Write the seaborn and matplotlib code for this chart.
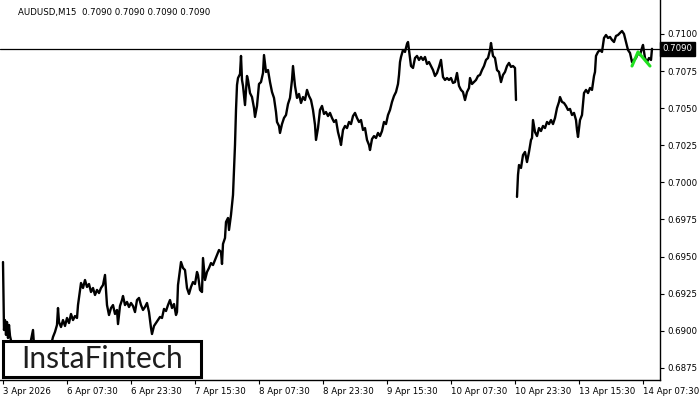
import pandas as pd
import seaborn as sns
import matplotlib.pyplot as plt
import matplotlib.transforms as mtransforms
from matplotlib.patches import Rectangle

# AUDUSD M15 closes, one point every ~2 bars
# first week (3 Apr .. 10 Apr close)
bars_week1 = [0, 1, 2, 3, 4, 5, 6, 7, 9, 12, 15, 18, 21, 24, 27, 30, 31, 34, 37, 41,
              45, 48, 50, 52, 54, 55, 56, 58, 60, 62, 64, 66, 68, 70, 72, 74, 75, 77, 78, 80,
              82, 84, 86, 88, 90, 92, 94, 96, 98, 100, 102, 103, 104, 106, 108, 110, 112, 114, 115, 117,
              119, 120, 122, 124, 126, 128, 130, 132, 134, 136, 138, 140, 142, 144, 146, 148, 149, 151, 153, 155,
              157, 159, 161, 163, 165, 167, 169, 171, 173, 174, 175, 177, 178, 180, 182, 184, 186, 188, 190, 192,
              194, 195, 197, 199, 200, 202, 204, 206, 208, 210, 212, 214, 216, 218, 219, 220, 222, 223, 225, 226,
              228, 230, 231, 232, 233, 234, 235, 237, 238, 239, 240, 241, 242, 244, 245, 247, 249, 251, 252, 254,
              256, 258, 260, 261, 263, 265, 267, 269, 271, 273, 274, 276, 277, 279, 281, 283, 285, 287, 289, 290,
              292, 294, 296, 298, 300, 302, 304, 306, 308, 310, 312, 313, 315, 317, 319, 321, 323, 325, 327, 329,
              331, 333, 335, 337, 338, 340, 342, 344, 346, 348, 350, 352, 354, 356, 358, 360, 362, 364, 366, 367,
              369, 371, 373, 375, 377, 379, 381, 383, 385, 387, 389, 391, 393, 395, 396, 397, 398, 400, 402, 404,
              405, 406, 408, 410, 412, 414, 416, 418, 420, 422, 424, 426, 428, 430, 432, 434, 436, 438, 440, 442,
              444, 446, 448, 450, 452, 454, 456, 458, 460, 462, 464, 466, 467, 469, 471, 473, 475, 477, 479, 481,
              483, 485, 487, 488, 490, 492, 494, 496, 498, 500, 502, 504, 506, 508, 510, 512, 513]
price_week1 = [0.69463, 0.69005, 0.69072, 0.68972, 0.69059, 0.68951, 0.69039, 0.68965, 0.68904, 0.68884,
               0.68911, 0.68870, 0.68897, 0.68877, 0.68904, 0.69005, 0.68904, 0.68870, 0.68891, 0.68857,
               0.68884, 0.68904, 0.68958, 0.68992, 0.69039, 0.69153, 0.69059, 0.69025, 0.69072, 0.69032,
               0.69086, 0.69052, 0.69113, 0.69072, 0.69099, 0.69086, 0.69173, 0.69275, 0.69322, 0.69288,
               0.69342, 0.69295, 0.69315, 0.69261, 0.69288, 0.69241, 0.69275, 0.69254, 0.69288, 0.69308,
               0.69376, 0.69275, 0.69173, 0.69106, 0.69153, 0.69173, 0.69113, 0.69140, 0.69045, 0.69167,
               0.69207, 0.69234, 0.69173, 0.69194, 0.69160, 0.69187, 0.69167, 0.69126, 0.69207, 0.69221,
               0.69173, 0.69140, 0.69160, 0.69187, 0.69126, 0.69019, 0.68978, 0.69032, 0.69052, 0.69072,
               0.69093, 0.69086, 0.69147, 0.69133, 0.69173, 0.69207, 0.69153, 0.69180, 0.69106, 0.69126,
               0.69308, 0.69409, 0.69463, 0.69423, 0.69409, 0.69288, 0.69248, 0.69295, 0.69328, 0.69315,
               0.69396, 0.69376, 0.69275, 0.69261, 0.69490, 0.69342, 0.69396, 0.69423, 0.69456, 0.69443,
               0.69477, 0.69510, 0.69544, 0.69531, 0.69450, 0.69585, 0.69625, 0.69733, 0.69760, 0.69679,
               0.69781, 0.69915, 0.70083, 0.70252, 0.70488, 0.70656, 0.70703, 0.70730, 0.70852, 0.70690,
               0.70650, 0.70582, 0.70521, 0.70717, 0.70690, 0.70602, 0.70575, 0.70501, 0.70441, 0.70515,
               0.70663, 0.70676, 0.70737, 0.70858, 0.70744, 0.70757, 0.70676, 0.70609, 0.70569, 0.70474,
               0.70407, 0.70380, 0.70333, 0.70393, 0.70434, 0.70454, 0.70528, 0.70569, 0.70690, 0.70784,
               0.70650, 0.70569, 0.70596, 0.70535, 0.70575, 0.70555, 0.70623, 0.70582, 0.70555, 0.70488,
               0.70387, 0.70286, 0.70366, 0.70488, 0.70515, 0.70461, 0.70474, 0.70447, 0.70468, 0.70434,
               0.70407, 0.70420, 0.70339, 0.70286, 0.70252, 0.70353, 0.70380, 0.70366, 0.70407, 0.70393,
               0.70447, 0.70468, 0.70434, 0.70407, 0.70420, 0.70353, 0.70366, 0.70286, 0.70252, 0.70218,
               0.70292, 0.70312, 0.70299, 0.70333, 0.70312, 0.70346, 0.70407, 0.70393, 0.70454, 0.70488,
               0.70542, 0.70582, 0.70609, 0.70663, 0.70724, 0.70811, 0.70845, 0.70892, 0.70879, 0.70933,
               0.70946, 0.70892, 0.70784, 0.70771, 0.70838, 0.70852, 0.70825, 0.70845, 0.70825, 0.70845,
               0.70798, 0.70811, 0.70784, 0.70757, 0.70717, 0.70737, 0.70778, 0.70825, 0.70710, 0.70690,
               0.70703, 0.70690, 0.70703, 0.70670, 0.70676, 0.70737, 0.70650, 0.70623, 0.70609, 0.70555,
               0.70609, 0.70636, 0.70703, 0.70663, 0.70676, 0.70690, 0.70717, 0.70724, 0.70757, 0.70784,
               0.70825, 0.70838, 0.70892, 0.70939, 0.70852, 0.70838, 0.70757, 0.70744, 0.70676, 0.70724,
               0.70744, 0.70784, 0.70805, 0.70778, 0.70784, 0.70771, 0.70555]

# second week (13 Apr open .. 14 Apr)
bars_week2 = [514, 515, 516, 518, 520, 522, 524, 526, 528, 529, 530, 532, 534, 536, 538, 540, 542, 544, 546, 548,
              550, 552, 554, 556, 557, 559, 561, 563, 565, 567, 569, 571, 573, 574, 575, 577, 579, 581, 583, 585,
              587, 589, 591, 592, 593, 595, 597, 599, 601, 603, 605, 607, 609, 611, 613, 615, 617, 619, 621, 623,
              625, 627, 629, 631, 633, 635, 637, 639, 640, 642, 644, 646, 648, 649]
price_week2 = [0.69902, 0.70050, 0.70117, 0.70097, 0.70184, 0.70205, 0.70137, 0.70205, 0.70286, 0.70299,
               0.70420, 0.70339, 0.70312, 0.70366, 0.70346, 0.70380, 0.70366, 0.70407, 0.70393, 0.70420,
               0.70393, 0.70434, 0.70501, 0.70542, 0.70575, 0.70542, 0.70535, 0.70515, 0.70488, 0.70495,
               0.70454, 0.70468, 0.70420, 0.70353, 0.70306, 0.70420, 0.70454, 0.70602, 0.70623, 0.70602,
               0.70636, 0.70623, 0.70717, 0.70744, 0.70852, 0.70879, 0.70892, 0.70879, 0.70973, 0.70993,
               0.70973, 0.70980, 0.70960, 0.70946, 0.70987, 0.70993, 0.71007, 0.71020, 0.71000, 0.70946,
               0.70892, 0.70872, 0.70811, 0.70825, 0.70838, 0.70872, 0.70858, 0.70906, 0.70926, 0.70838,
               0.70811, 0.70838, 0.70825, 0.70900]

# green pattern marker
pattern_bars = [629, 635, 647]
pattern_price = [0.70784, 0.70879, 0.70784]

last_price = 0.7090
tick_bars = [0, 64, 128, 192, 256, 320, 384, 448, 512, 576, 640]
tick_labels = ["3 Apr 2026", "6 Apr 07:30", "6 Apr 23:30", "7 Apr 15:30", "8 Apr 07:30", "8 Apr 23:30",
               "9 Apr 15:30", "10 Apr 07:30", "10 Apr 23:30", "13 Apr 15:30", "14 Apr 07:30"]
price_ticks = [0.6875, 0.6900, 0.6925, 0.6950, 0.6975, 0.7000, 0.7025, 0.7050, 0.7075, 0.7100]

sns.set_style("white")
plt.rcParams['font.family'] = ['DejaVu Sans']

df = pd.concat([
    pd.DataFrame({'bar': bars_week1, 'price': price_week1, 'seg': 0}),
    pd.DataFrame({'bar': bars_week2, 'price': price_week2, 'seg': 1}),
])

fig = plt.figure(figsize=(7, 4), dpi=100)
ax = fig.add_axes([0, 0.05, 660 / 700, 0.95])

sns.lineplot(data=df, x='bar', y='price', units='seg', estimator=None,
             color='black', lw=1.7, ax=ax, legend=False)
sns.lineplot(x=pattern_bars, y=pattern_price, color='#1fe01f', lw=2.2, ax=ax)

ax.axhline(last_price, color='black', lw=0.9)

ax.set_xlim(-3, 657)
ax.set_ylim(0.68668, 0.71229)
ax.set_xlabel('')
ax.set_ylabel('')

for s in ['top', 'left']:
    ax.spines[s].set_visible(False)
for s in ['right', 'bottom']:
    ax.spines[s].set_color('black')
    ax.spines[s].set_linewidth(1.0)

ax.yaxis.tick_right()
ax.set_yticks(price_ticks)
ax.set_yticklabels([f"{v:.4f}" for v in price_ticks])
ax.set_xticks(tick_bars)
ax.set_xticklabels(tick_labels)
for lbl in ax.get_xticklabels():
    lbl.set_horizontalalignment('left')
ax.tick_params(axis='y', right=True, left=False, length=3, width=0.8, pad=2,
               labelsize=6.2, colors='black')
ax.tick_params(axis='x', bottom=True, length=3, width=0.8, pad=2,
               labelsize=6.2, colors='black')

# current price tag on the price scale
trans = mtransforms.blended_transform_factory(ax.transAxes, ax.transData)
ax.text(1.004, last_price, f"{last_price:.4f}", transform=trans, color='white',
        fontsize=6.2, va='center', ha='left',
        bbox=dict(facecolor='black', edgecolor='black', pad=1.6))

fig.text(18 / 700, 1 - 12 / 400, "AUDUSD,M15  0.7090 0.7090 0.7090 0.7090",
         fontsize=6.2, va='center', ha='left', color='black')

# logo box
fig.add_artist(Rectangle((3 / 700, 23 / 400), 198 / 700, 36 / 400, transform=fig.transFigure,
                         facecolor='white', edgecolor='black', lw=2.2, zorder=5))
fig.text(102 / 700, 1 - 359 / 400, "InstaFintech", family=['Lato', 'DejaVu Sans'],
         fontsize=21.5, color='#1e1e1e', ha='center', va='center', zorder=6)

fig.savefig("out.png", dpi=100, facecolor='white')
